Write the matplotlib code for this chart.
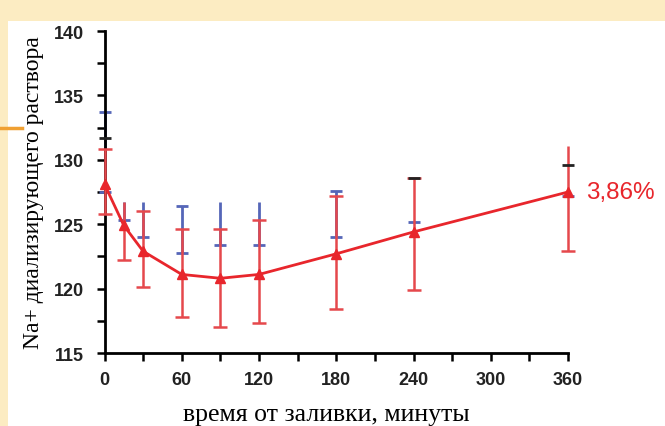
import numpy as np
import matplotlib.pyplot as plt
from matplotlib.patches import Rectangle
from matplotlib.lines import Line2D

# time after filling, minutes
minutes = [0, 15, 30, 60, 90, 120, 180, 240, 360]

# red series (mean, error bar ends); nan = cap not visible on the slide
red_mean = [128.1, 124.9, 122.9, 121.1, 120.8, 121.1, 122.7, 124.4, 127.5]
red_lo = [125.8, 122.2, 120.1, 117.8, 117.0, 117.3, 118.4, 119.9, 122.9]
red_hi = [130.8, 126.7, 126.0, 124.6, 124.6, 125.3, 127.2, 128.6, 131.1]
red_hi_cap = [130.8, np.nan, 126.0, 124.6, 124.6, 125.3, 127.2, 128.6, np.nan]

# blue series, only the visible pieces of its error bars
blue_lo = [127.5, 125.3, 124.0, 122.8, 123.4, 123.4, 124.0, 125.2, 127.2]
blue_hi = [133.7, 126.7, 126.7, 126.4, 126.7, 126.7, 127.6, 125.2, 127.2]
blue_hi_cap = [133.7, np.nan, np.nan, 126.4, np.nan, np.nan, 127.6, np.nan, np.nan]

# black caps
black_t = [0, 240, 360]
black_cap = [131.7, 128.6, 129.6]

label_txt = '3,86%'

red = '#e8262c'
red_bar = '#e5484c'
blue = '#5566b8'

fig = plt.figure(figsize=(6.65, 4.27), dpi=100)
fig.patch.set_facecolor('white')

# slide decoration
fig.add_artist(Rectangle((0, 1 - 22 / 427), 1, 22 / 427, transform=fig.transFigure,
                         facecolor='#fcecc2', edgecolor='none', zorder=-2))
fig.add_artist(Rectangle((0, 0), 8 / 665, 1, transform=fig.transFigure,
                         facecolor='#fcecc2', edgecolor='none', zorder=-2))
fig.add_artist(Line2D([0, 22 / 665], [1 - 129 / 427, 1 - 129 / 427], transform=fig.transFigure,
                      color='#f0a032', lw=2.5, zorder=-1))

ax = fig.add_axes([104.5 / 665, 1 - 354 / 427, 463.5 / 665, 322 / 427])
ax.set_facecolor('none')

# blue bars
ax.vlines(minutes, blue_lo, blue_hi, color=blue, lw=2, clip_on=False, zorder=2)
ax.plot(minutes, blue_lo, ls='none', marker='_', ms=9, mew=2, color=blue, clip_on=False, zorder=2)
ax.plot(minutes, blue_hi_cap, ls='none', marker='_', ms=9, mew=2, color=blue, clip_on=False, zorder=2)
ax.plot(black_t, black_cap, ls='none', marker='_', ms=9, mew=2, color='#222222', clip_on=False, zorder=4)

# red bars and line
ax.vlines(minutes, red_lo, red_hi, color=red_bar, lw=1.8, clip_on=False, zorder=3)
ax.plot(minutes, red_lo, ls='none', marker='_', ms=10, mew=1.8, color=red_bar, clip_on=False, zorder=3)
ax.plot(minutes, red_hi_cap, ls='none', marker='_', ms=10, mew=1.8, color=red_bar, clip_on=False, zorder=3)
ax.plot(minutes, red_mean, color=red, lw=2, marker='^', ms=7, clip_on=False, zorder=5)

ax.text(1.038, (red_mean[-1] - 115) / 25, label_txt, transform=ax.transAxes, color=red,
        fontsize=17.5, family='Liberation Sans', va='center', ha='left')

ax.set_xlim(0, 360)
ax.set_ylim(115, 140)
ax.set_xticks(range(0, 361, 60))
ax.set_xticks(range(30, 361, 60), minor=True)
ax.set_yticks(range(115, 141, 5))
ax.set_yticks(np.arange(117.5, 140, 5), minor=True)

for s in ['top', 'right']:
    ax.spines[s].set_visible(False)
for s in ['left', 'bottom']:
    ax.spines[s].set_linewidth(2)

ax.tick_params(which='both', direction='out', width=1.8, length=6)
ax.tick_params(axis='x', labelsize=13, pad=7)
ax.tick_params(axis='y', labelsize=13, pad=9)
for lab in ax.get_xticklabels() + ax.get_yticklabels():
    lab.set_family('Liberation Sans')
    lab.set_fontweight('bold')
    lab.set_color('#222222')

ax.set_xlabel('время от заливки, минуты', family='Liberation Serif', fontsize=18.5, labelpad=11)
ax.xaxis.label.set_x(0.478)
ax.set_ylabel('Na+ диализирующего раствора', family='Liberation Serif', fontsize=17, labelpad=7)

fig.savefig('out.png', dpi=100)
